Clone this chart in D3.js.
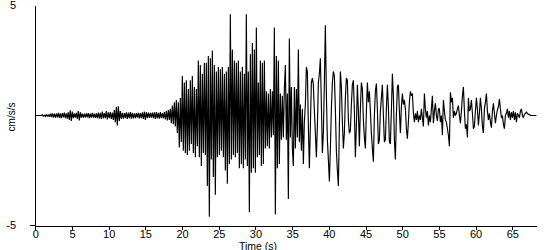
<!DOCTYPE html>
<html><head><meta charset="utf-8">
<script src="https://cdn.jsdelivr.net/npm/d3@7"></script>
<style>
html,body{margin:0;padding:0;background:#fff;}
svg{display:block;font-family:"Liberation Sans",Arial,sans-serif;}
</style></head>
<body><svg id="c" width="550" height="250"></svg>
<script>
// sampling interval of the digitised record (s)
const sampleInterval = 0.1363;
// acceleration record (cm/s/s)
const accel = [
0,0,0,0,0,0,0,0.03,-0.03,0.02,
-0.04,0.05,-0.05,0.04,-0.06,0.08,-0.07,0.1,-0.09,0.08,
-0.1,0.09,-0.08,0.12,-0.11,0.1,-0.12,0.11,-0.09,0.13,
-0.12,0.1,-0.14,0.15,-0.2,0.24,-0.25,0.18,-0.12,0.1,
-0.1,0.12,-0.15,0.2,-0.22,0.15,-0.1,0.09,-0.1,0.08,
-0.09,0.1,-0.08,0.11,-0.12,0.09,-0.1,0.12,-0.1,0.09,
-0.11,0.1,-0.12,0.13,-0.14,0.12,-0.15,0.18,-0.13,0.11,
-0.12,0.2,-0.18,0.14,-0.12,0.15,-0.16,0.13,-0.2,0.25,
-0.3,0.38,-0.45,0.42,-0.25,0.2,-0.15,0.12,-0.14,0.11,
-0.12,0.14,-0.15,0.13,-0.12,0.16,-0.14,0.12,-0.13,0.1,
-0.12,0.11,-0.1,0.12,-0.13,0.11,-0.12,0.14,-0.15,0.18,
-0.2,0.15,-0.12,0.13,-0.11,0.12,-0.1,0.13,-0.12,0.14,
-0.15,0.16,-0.13,0.12,-0.14,0.15,-0.12,0.11,-0.13,0.15,
-0.18,0.2,-0.22,0.25,-0.2,0.3,-0.35,0.45,-0.4,0.6,
-0.5,0.7,-0.8,0.6,-1.45,0.8,-1.2,1.8,-1.6,1.5,
-1.7,1.6,-1.8,1.2,-1.6,1.6,-1.3,1.8,-1.7,1.3,
-1.9,1.2,-1.4,2.5,-1.9,2.3,-2.3,1.9,-1.7,2.4,
-1.8,2.4,-3.2,2.7,-4.6,2.6,-2.0,2.95,-2.8,2.3,
-3.6,2.0,-1.9,2.2,-1.8,2.1,-1.6,2.2,-1.9,1.9,
-2.5,2.0,-3.1,2.2,-2.2,4.6,-2.0,3.0,-1.8,2.5,
-1.9,2.4,-1.7,2.5,-2.4,2.0,-2.2,2.2,-2.4,1.9,
-2.0,4.6,-2.3,2.0,-4.4,2.8,-2.6,3.3,-2.4,3.0,
-2.6,4.0,-1.9,1.5,-1.8,2.5,-2.3,2.4,-2.2,2.5,
-1.5,1.1,-1.4,1.0,-1.5,1.2,-1.0,1.1,-0.9,4.0,
-4.5,2.7,-2.4,2.5,-2.2,1.0,-1.1,0.9,-1.0,1.2,
2.3,-1.1,1.0,-3.8,3.5,-1.0,1.3,-1.5,-2.3,1.3,
-1.5,1.2,-1.0,3.0,-1.2,0.5,-1.6,0.3,-2.2,-0.3,
0.5,2.2,2.0,-0.5,-2.4,-0.5,1.5,1.7,1.4,0.2,
-0.8,-1.9,-0.5,1.5,1.9,2.6,0.5,-1.7,-0.8,1.5,
4.1,1.0,-1.1,-2.0,-3.0,-1.5,0.3,1.5,2.0,1.8,
0.3,-1.6,-2.5,-3.2,-0.5,2.0,1.3,-0.3,-1.5,-0.8,
0.8,1.7,1.6,-0.2,-0.8,-0.7,0.5,1.4,1.6,0.2,
-1.9,-0.5,1.4,0.2,-1.4,0.3,1.5,1.2,-0.2,-1.0,
-1.5,0.2,1.5,0.6,1.1,0.2,-0.8,-1.5,-2.1,0.0,
1.1,1.45,0.3,-1.3,-1.1,0.2,0.8,1.4,0.0,-1.2,
-1.1,0.3,1.4,0.4,-1.2,-1.3,0.2,1.9,0.9,-1.1,
-2.0,0.0,1.3,1.4,0.2,-0.8,0.4,1.0,0.5,0.7,
0.3,-0.6,-1.05,-0.3,0.6,1.1,0.9,1.0,0.1,-0.3,
0.1,-0.2,0.2,-0.3,0.0,-0.2,0.3,-0.1,-0.5,1.0,
0.3,-0.1,0.2,-0.45,0.0,-0.3,0.3,0.9,-0.35,0.2,
0.55,0.0,-0.25,0.3,0.3,-0.3,0.0,-0.9,0.7,0.2,
-0.2,-0.3,-0.6,-0.9,-1.4,1.05,0.6,0.8,-0.1,0.2,
0.0,0.1,0.3,0.45,0.0,-0.35,0.2,0.9,1.3,0.2,
-0.6,-0.4,-1.0,0.8,0.2,0.3,0.7,0.1,-0.6,-0.5,
0.2,0.8,0.3,-0.45,0.1,0.8,0.3,-0.5,-0.8,0.3,
0.6,1.0,0.2,-0.2,0.1,-0.3,-0.55,0.2,0.55,0.1,
-0.35,0.0,0.25,0.4,0.75,0.3,-0.1,0.0,-0.4,-0.6,
0.0,0.1,0.3,-0.1,0.2,-0.2,0.15,-0.1,0.2,-0.2,
0.15,-0.3,0.1,0.0,-0.1,0.2,0.3,0.0,-0.1,0.05,
0.1,0.15,0.1,0.05,0.05,0.0,0.0,0.0,0.0,0.0,
0.0,0.0
];
const xTicks = [0,5,10,15,20,25,30,35,40,45,50,55,60,65];
const yTickLabels = [5,-5];
const xTitle = "Time (s)";
const yTitle = "cm/s/s";

const svg = d3.select("#c");
const x = d3.scaleLinear().domain([0, 68.27]).range([35.3, 536.3]);
const y = d3.scaleLinear().domain([-5, 5]).range([225.5, 5.5]);

const line = d3.line()
  .x((d,i) => x(i * sampleInterval))
  .y(d => y(d));

svg.append("path")
  .datum(accel)
  .attr("d", line)
  .attr("fill", "none")
  .attr("stroke", "#000")
  .attr("stroke-width", 1.15)
  .attr("stroke-linejoin", "miter")
  .attr("stroke-miterlimit", 2);

// x axis
const xAxis = d3.axisBottom(x).tickValues(xTicks).tickSize(4).tickSizeOuter(0).tickPadding(1);
const gx = svg.append("g").attr("transform", "translate(0,225.5)").call(xAxis);
gx.select(".domain").attr("stroke","#000").attr("shape-rendering","crispEdges");
gx.selectAll(".tick line").attr("stroke","#000").attr("shape-rendering","crispEdges");
gx.selectAll("text").attr("font-size", 11).attr("fill","#000").attr("font-family","Liberation Sans, Arial, sans-serif");

// y axis
svg.append("line").attr("x1", 35.5).attr("x2", 35.5).attr("y1", y(5)).attr("y2", y(-5))
  .attr("stroke","#000").attr("shape-rendering","crispEdges");
svg.append("line").attr("x1", 30).attr("x2", 35.5).attr("y1", y(-5)).attr("y2", y(-5))
  .attr("stroke","#000").attr("shape-rendering","crispEdges");
svg.selectAll(".ylab").data(yTickLabels).enter().append("text")
  .attr("x", 16).attr("y", d => y(d)).attr("dy", "0.35em")
  .attr("text-anchor","end").attr("font-size", 11).attr("fill","#000")
  .text(d => d);

svg.append("text").attr("x", 258).attr("y", 249.5).attr("text-anchor","middle")
  .attr("font-size", 10.5).attr("fill","#000").text(xTitle);
svg.append("text").attr("transform", "translate(15,117) rotate(-90)")
  .attr("text-anchor","middle").attr("font-size", 10).attr("fill","#000").text(yTitle);
</script></body></html>
